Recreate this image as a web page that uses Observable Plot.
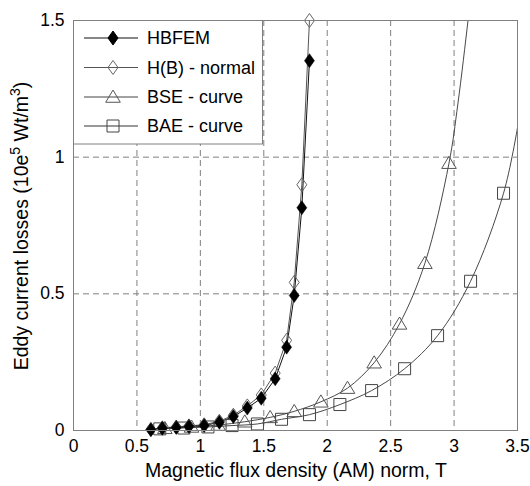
<!DOCTYPE html>
<html>
<head>
<meta charset="utf-8">
<script src="https://cdn.jsdelivr.net/npm/d3@7"></script>
<script src="https://cdn.jsdelivr.net/npm/@observablehq/plot@0.6"></script>
<style>
  html, body { margin: 0; padding: 0; background: #fff; }
  #chart { width: 530px; height: 486px; }
</style>
</head>
<body>
<div id="chart"></div>
<script>
// ---- data ----
const hbX        = [0.61, 0.70, 0.81, 0.91, 1.03, 1.15, 1.26, 1.37, 1.48, 1.59, 1.68, 1.74, 1.80, 1.86];
const hbfemY     = [0.003, 0.008, 0.011, 0.015, 0.018, 0.030, 0.051, 0.082, 0.118, 0.189, 0.305, 0.494, 0.815, 1.353];
const hbNormalY  = [0.004, 0.010, 0.013, 0.017, 0.021, 0.034, 0.056, 0.090, 0.130, 0.210, 0.330, 0.542, 0.899, 1.500];

const bseX = [0.72, 0.93, 1.14, 1.35, 1.55, 1.74, 1.95, 2.16, 2.37, 2.57, 2.77, 2.96];
const bseY = [0.008, 0.013, 0.020, 0.032, 0.048, 0.070, 0.105, 0.155, 0.248, 0.390, 0.612, 0.978];
const bseCurveExtX = [3.03, 3.11, 3.14];
const bseCurveExtY = [1.195, 1.500, 1.62];

const baeX = [0.68, 0.87, 1.06, 1.25, 1.45, 1.64, 1.86, 2.10, 2.35, 2.61, 2.87, 3.13, 3.39];
const baeY = [0.006, 0.009, 0.013, 0.018, 0.024, 0.041, 0.058, 0.095, 0.146, 0.226, 0.347, 0.546, 0.868];
const baeCurveExtX = [3.50];
const baeCurveExtY = [1.108];

const xTicks = [0, 0.5, 1, 1.5, 2, 2.5, 3, 3.5];
const yTicks = [0, 0.5, 1, 1.5];
const gridXVals = [0.5, 1, 1.5, 2, 2.5, 3];
const gridYVals = [0.5, 1];

const seriesNames = ["HBFEM", "H(B) - normal", "BSE - curve", "BAE - curve"];
const xLabel = "Magnetic flux density (AM) norm, T";

// ---- tables ----
const hbfem = hbX.map((x, i) => ({x, y: hbfemY[i]}));
const hbNormal = hbX.map((x, i) => ({x, y: hbNormalY[i]}));
const bse = bseX.map((x, i) => ({x, y: bseY[i]}));
const bseCurve = bse.concat(bseCurveExtX.map((x, i) => ({x, y: bseCurveExtY[i]})));
const bae = baeX.map((x, i) => ({x, y: baeY[i]}));
const baeCurve = bae.concat(baeCurveExtX.map((x, i) => ({x, y: baeCurveExtY[i]})));

// ---- custom marker symbols ----
const rOf = size => Math.sqrt(size / Math.PI);
const diamondSym = {draw(ctx, size) { const r = rOf(size), w = r, h = r * 1.4;
  ctx.moveTo(0, -h); ctx.lineTo(w, 0); ctx.lineTo(0, h); ctx.lineTo(-w, 0); ctx.closePath(); }};
const triSym = {draw(ctx, size) { const r = rOf(size);
  ctx.moveTo(0, -r * 0.95); ctx.lineTo(r, r * 0.72); ctx.lineTo(-r, r * 0.72); ctx.closePath(); }};
const squareSym = {draw(ctx, size) { const r = rOf(size);
  ctx.moveTo(-r, -r); ctx.lineTo(r, -r); ctx.lineTo(r, r); ctx.lineTo(-r, r); ctx.closePath(); }};

const gridStyle = {stroke: "#808080", strokeWidth: 1, strokeDasharray: "6,4"};
const fmt = d => String(d);

const svg = Plot.plot({
  width: 530, height: 486,
  marginLeft: 73, marginRight: 13, marginTop: 20, marginBottom: 56,
  style: {fontFamily: "'Liberation Sans', Arial, sans-serif", fontSize: "17.5px", color: "#000", background: "#fff"},
  x: {domain: [0, 3.5], ticks: xTicks, tickFormat: fmt, label: null, tickSize: 0, tickPadding: 9},
  y: {domain: [0, 1.5], ticks: yTicks, tickFormat: fmt, label: null, tickSize: 0, tickPadding: 9},
  marks: [
    Plot.ruleX(gridXVals, gridStyle),
    Plot.ruleY(gridYVals, gridStyle),
    Plot.line(baeCurve, {x: "x", y: "y", curve: "catmull-rom", stroke: "#333", strokeWidth: 0.9, clip: true}),
    Plot.line(bseCurve, {x: "x", y: "y", curve: "catmull-rom", stroke: "#333", strokeWidth: 0.9, clip: true}),
    Plot.line(hbNormal, {x: "x", y: "y", stroke: "#555", strokeWidth: 1, clip: true}),
    Plot.line(hbfem, {x: "x", y: "y", stroke: "#111", strokeWidth: 1, clip: true}),
    Plot.dot(bae, {x: "x", y: "y", symbol: squareSym, r: 6, fill: "none", stroke: "#444", strokeWidth: 1}),
    Plot.dot(bse, {x: "x", y: "y", symbol: triSym, r: 7.3, fill: "none", stroke: "#555", strokeWidth: 1}),
    Plot.dot(hbNormal, {x: "x", y: "y", symbol: diamondSym, r: 5, fill: "none", stroke: "#666", strokeWidth: 1}),
    Plot.dot(hbfem, {x: "x", y: "y", symbol: diamondSym, r: 5, fill: "#000", stroke: "#000", strokeWidth: 0.5}),
    Plot.frame({stroke: "#808080", strokeWidth: 1})
  ]
});
document.getElementById("chart").appendChild(svg);

// ---- axis labels ----
const s = d3.select(svg);
s.append("text")
  .attr("x", 296).attr("y", 477)
  .attr("text-anchor", "middle")
  .attr("font-size", 19.5).attr("fill", "#000")
  .text(xLabel);

const yl = s.append("text")
  .attr("transform", "translate(28,226) rotate(-90)")
  .attr("text-anchor", "middle")
  .attr("font-size", 19.5).attr("fill", "#000");
yl.append("tspan").text("Eddy current losses (10e");
yl.append("tspan").attr("dy", -8).attr("font-size", 14).text("5");
yl.append("tspan").attr("dy", 8).text(" Wt/m");
yl.append("tspan").attr("dy", -8).attr("font-size", 14).text("3");
yl.append("tspan").attr("dy", 8).text(")");

// ---- legend ----
const lg = s.append("g");
lg.append("rect").attr("x", 73.5).attr("y", 20.5).attr("width", 189).attr("height", 123.5)
  .attr("fill", "#fff").attr("stroke", "#808080");
const legendItems = [
  {name: seriesNames[0], sym: diamondSym, r: 5, fill: "#000", stroke: "#000", line: "#111"},
  {name: seriesNames[1], sym: diamondSym, r: 5, fill: "none", stroke: "#666", line: "#555"},
  {name: seriesNames[2], sym: triSym, r: 7.3, fill: "none", stroke: "#555", line: "#444"},
  {name: seriesNames[3], sym: squareSym, r: 6, fill: "none", stroke: "#444", line: "#333"}
];
const rowY = [38, 67.5, 97, 126];
legendItems.forEach((d, i) => {
  const y = rowY[i];
  lg.append("line").attr("x1", 84).attr("x2", 138).attr("y1", y).attr("y2", y)
    .attr("stroke", d.line).attr("stroke-width", 1);
  lg.append("path").attr("transform", `translate(113,${y})`)
    .attr("d", d3.symbol(d.sym, d.r * d.r * Math.PI)())
    .attr("fill", d.fill).attr("stroke", d.stroke).attr("stroke-width", 1);
  lg.append("text").attr("x", 147).attr("y", y).attr("dy", "0.35em")
    .attr("text-anchor", "start")
    .attr("font-size", 18).attr("fill", "#000").text(d.name);
});
</script>
</body>
</html>
